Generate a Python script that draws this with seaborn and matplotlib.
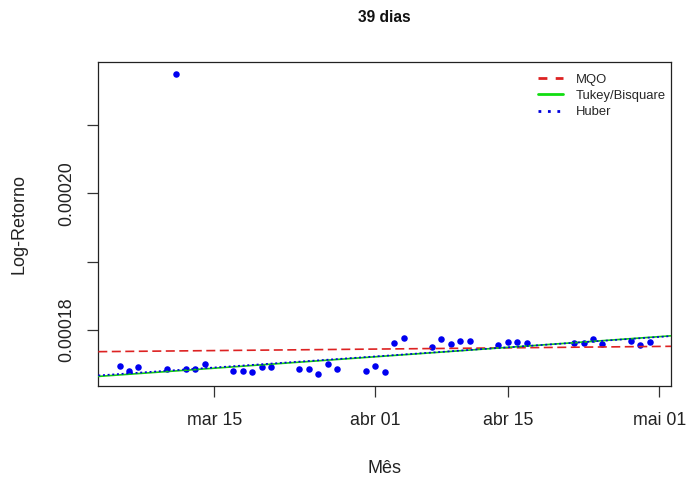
import numpy as np
import pandas as pd
import matplotlib
matplotlib.use("Agg")
import matplotlib.pyplot as plt
import matplotlib.dates as mdates
from matplotlib.lines import Line2D
import seaborn as sns

# ---------------- data ----------------
titulo = "39 dias"
datas = [
    "2025-03-05", "2025-03-06", "2025-03-07", "2025-03-10", "2025-03-11",
    "2025-03-12", "2025-03-13", "2025-03-14", "2025-03-17", "2025-03-18",
    "2025-03-19", "2025-03-20", "2025-03-21", "2025-03-24", "2025-03-25",
    "2025-03-26", "2025-03-27", "2025-03-28", "2025-03-31", "2025-04-01",
    "2025-04-02", "2025-04-03", "2025-04-04", "2025-04-07", "2025-04-08",
    "2025-04-09", "2025-04-10", "2025-04-11", "2025-04-14", "2025-04-15",
    "2025-04-16", "2025-04-17", "2025-04-22", "2025-04-23", "2025-04-24",
    "2025-04-25", "2025-04-28", "2025-04-29", "2025-04-30",
]
log_retorno = [
    0.0001746, 0.0001739, 0.0001745, 0.0001743, 0.0002176,
    0.0001742, 0.0001742, 0.0001749, 0.0001740, 0.0001740,
    0.0001738, 0.0001745, 0.0001745, 0.0001743, 0.0001743,
    0.0001735, 0.0001749, 0.0001742, 0.0001740, 0.0001747,
    0.0001738, 0.0001780, 0.0001788, 0.0001774, 0.0001786,
    0.0001779, 0.0001784, 0.0001784, 0.0001777, 0.0001782,
    0.0001782, 0.0001780, 0.0001780, 0.0001780, 0.0001786,
    0.0001779, 0.0001784, 0.0001777, 0.0001782,
]
modelos = ["MQO", "Tukey/Bisquare", "Huber"]
x_ticks = ["2025-03-15", "2025-04-01", "2025-04-15", "2025-05-01"]
x_tick_labels = ["mar 15", "abr 01", "abr 15", "mai 01"]
y_ticks = [0.00018, 0.00019, 0.00020, 0.00021]
y_tick_labels = ["0.00018", "", "0.00020", ""]

# ---------------- fits ----------------
dt = pd.to_datetime(datas)
y = np.asarray(log_retorno)
xd = np.asarray((dt - dt[0]).days, dtype=float)
X = np.column_stack([np.ones_like(xd), xd])


def w_huber(u, k=1.345):
    a = np.abs(u)
    return np.where(a <= k, 1.0, k / np.maximum(a, 1e-300))


def w_bisquare(u, c=4.685):
    return np.where(np.abs(u) < c, (1 - (u / c) ** 2) ** 2, 0.0)


def irls(wfun):
    beta = np.linalg.lstsq(X, y, rcond=None)[0]
    r = y - X @ beta
    for _ in range(500):
        s = np.median(np.abs(r)) / 0.6745
        w = wfun(r / s)
        sw = np.sqrt(w)
        beta = np.linalg.lstsq(X * sw[:, None], y * sw, rcond=None)[0]
        r_new = y - X @ beta
        if np.sqrt(np.sum((r - r_new) ** 2) / np.sum(r ** 2)) < 1e-10:
            r = r_new
            break
        r = r_new
    return beta


coefs = {
    "MQO": np.linalg.lstsq(X, y, rcond=None)[0],
    "Tukey/Bisquare": irls(w_bisquare),
    "Huber": irls(w_huber),
}

# R-style 4% axis extension
xr = xd.max() - xd.min()
x_lo, x_hi = xd.min() - 0.04 * xr, xd.max() + 0.04 * xr
yr = y.max() - y.min()
y_lo, y_hi = y.min() - 0.04 * yr, y.max() + 0.04 * yr

rows = []
for m in modelos:
    b = coefs[m]
    for xv in (x_lo, x_hi):
        rows.append({"modelo": m, "data": dt[0] + pd.Timedelta(days=xv),
                     "valor": b[0] + b[1] * xv})
linhas = pd.DataFrame(rows)
pontos = pd.DataFrame({"data": dt, "valor": y})

# ---------------- style ----------------
sns.set_style("white")
plt.rcParams["font.family"] = ["Liberation Sans", "DejaVu Sans"]

fig = plt.figure(figsize=(6.86, 4.78), dpi=100)
W, H = 686, 478
L, R, T, B = 98.3, 671.0, 61.5, 386.0
ax = fig.add_axes([L / W, 1 - B / H, (R - L) / W, (B - T) / H])

sns.scatterplot(data=pontos, x="data", y="valor", ax=ax, color="#0000F0",
                s=22, linewidth=0, zorder=3, legend=False)

cores = {"MQO": "#dd2222", "Tukey/Bisquare": "#11cc11", "Huber": "#0000dd"}
tracos = {"MQO": (5.4, 2.7), "Tukey/Bisquare": "", "Huber": (1.2, 1.6)}
for m in modelos:
    sub = linhas[linhas["modelo"] == m]
    sns.lineplot(data=sub, x="data", y="valor", ax=ax, color=cores[m],
                 lw=1.2, legend=False, zorder=4)
    line = ax.get_lines()[-1]
    if tracos[m]:
        line.set_dashes(tracos[m])

ax.set_xlim(mdates.date2num(dt[0] + pd.Timedelta(days=x_lo)),
            mdates.date2num(dt[0] + pd.Timedelta(days=x_hi)))
ax.set_ylim(y_lo, y_hi)

ax.set_xticks(mdates.date2num(pd.to_datetime(x_ticks)))
ax.set_xticklabels(x_tick_labels)
ax.set_yticks(y_ticks)
ax.set_yticklabels(y_tick_labels, rotation=90, va="center")

ax.tick_params(axis="both", which="major", direction="out", length=7.8,
               width=0.9, color="#333333", labelsize=12.8, labelcolor="#222222",
               bottom=True, left=True)
ax.tick_params(axis="x", pad=11)
ax.tick_params(axis="y", pad=9)

for sp in ax.spines.values():
    sp.set_visible(True)
    sp.set_color("#222222")
    sp.set_linewidth(0.9)

ax.set_xlabel("Mês", fontsize=13, color="#222222")
ax.set_ylabel("Log-Retorno", fontsize=13, color="#222222")
ax.xaxis.set_label_coords(0.5, (B - 460) / (B - T))
ax.yaxis.set_label_coords((28.0 - L) / (R - L), 0.5)
ax.set_title(titulo, fontsize=11.2, fontweight="bold", color="#111111",
             y=(B - 21.7) / (B - T), pad=0)

handles = [
    Line2D([], [], color=cores["MQO"], lw=2, dashes=(3.2, 3.0)),
    Line2D([], [], color="#11dd11", lw=2),
    Line2D([], [], color=cores["Huber"], lw=2, dashes=(1.0, 2.4)),
]
ax.legend(handles, modelos, loc="upper left",
          bbox_to_anchor=((538 - L) / (R - L), (B - 73.5) / (B - T)),
          frameon=False, fontsize=9.4, handlelength=1.95, handletextpad=0.95,
          labelspacing=0.32, borderpad=0, borderaxespad=0)

fig.savefig("out.png", dpi=100, facecolor="white")
